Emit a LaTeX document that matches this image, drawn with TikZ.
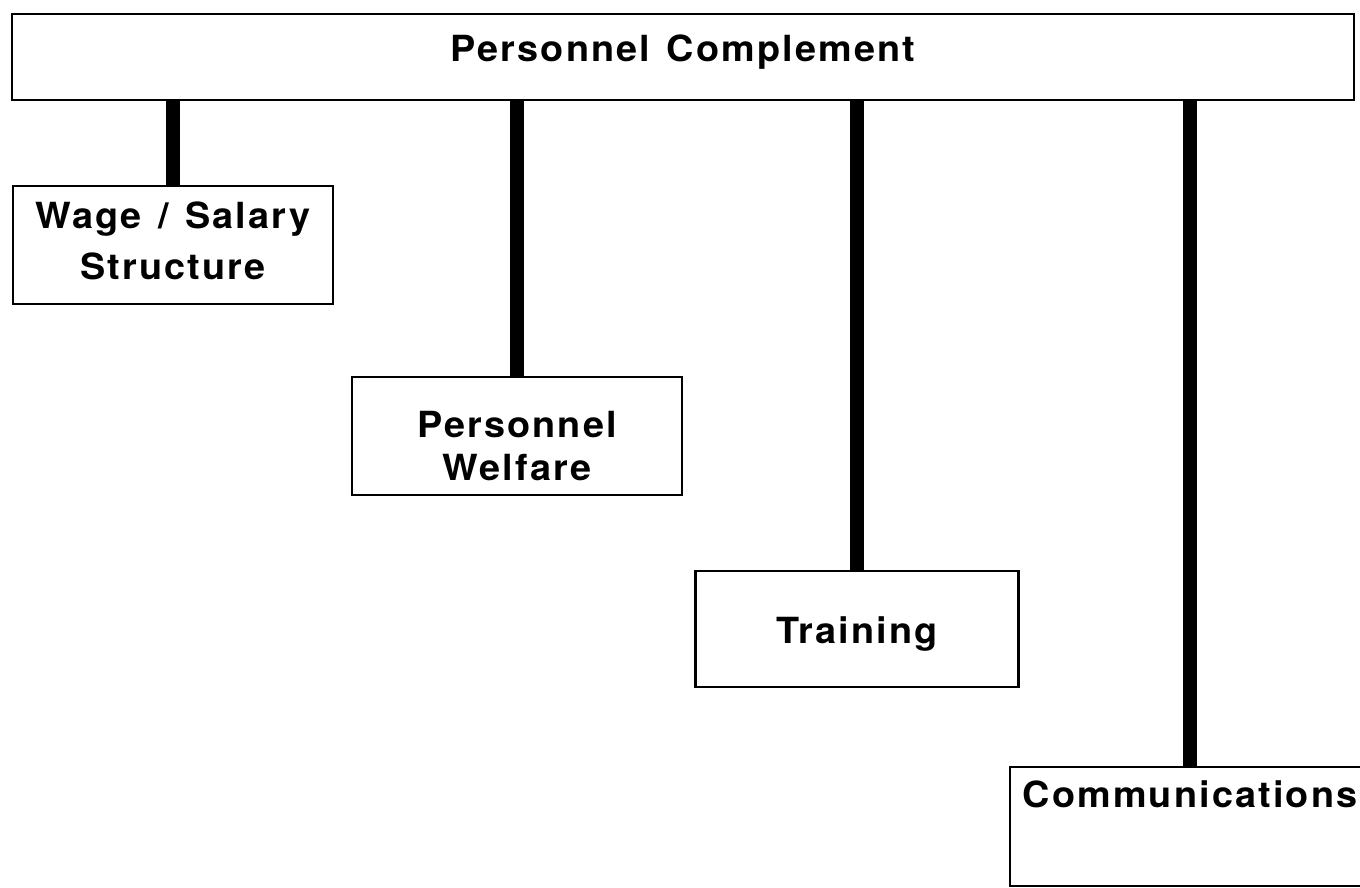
\documentclass[tikz,border=0pt]{standalone}
\usepackage{fontspec}
\usepackage{tikz}
\usetikzlibrary{positioning}
\newfontfamily\chartfont[LetterSpace=6,FakeStretch=1.05,WordSpace=1.3]{TeX Gyre Heros}
\tikzset{
  unit/.style={rectangle,draw=black,fill=white,line width=2.5pt,align=center,font=\chartfont\bfseries\fontsize{36}{40}\selectfont,minimum height=118pt},
  head/.style={unit,minimum width=1342pt,minimum height=86pt},
  link/.style={line width=14pt,draw=black}
}

\begin{document}
\begin{tikzpicture}[x=1pt,y=-1pt]
  \clip (0,0) rectangle (1360,888);
  \fill[white] (0,0) rectangle (1360,888);
  \node[head, text depth=17pt] (top) at (683,57) {Personnel Complement};
  \node[unit, minimum width=320pt, text depth=8pt] (wage) at (173,245) {Wage / Salary\\[11pt]Structure};
  \node[unit, minimum width=330pt, text height=90pt] (welfare) at (517,436) {Personnel\\[3pt]Welfare};
  \node[unit, minimum width=323pt, minimum height=116pt, text height=37pt] (train) at (857,629) {Training};
  \node[unit, minimum width=360pt, minimum height=119pt, text depth=65pt] (comm) at (1190,826.5) {Communications};
  \draw[link] (top.south -| wage.north) -- (wage.north);
  \draw[link] (top.south -| welfare.north) -- (welfare.north);
  \draw[link] (top.south -| train.north) -- (train.north);
  \draw[link] (top.south -| comm.north) -- (comm.north);
\end{tikzpicture}
\end{document}
